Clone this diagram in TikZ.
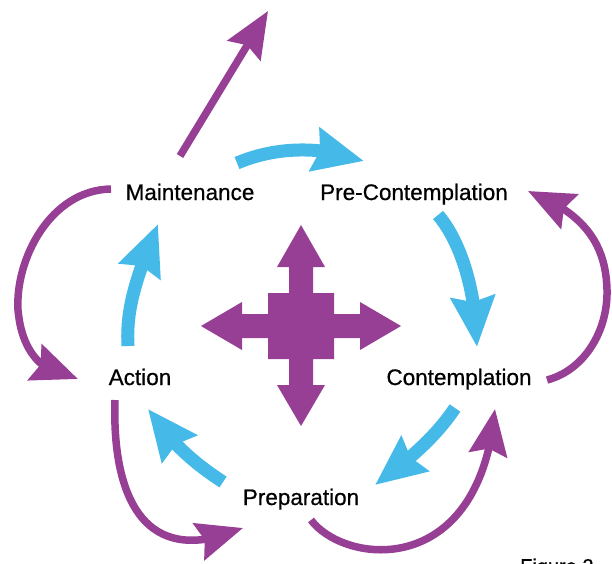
\documentclass[tikz,border=0pt]{standalone}
\usepackage{fontspec}
\setmainfont{Liberation Sans}
\newfontfamily\lblfont{Liberation Sans}[FakeBold=0.6]
\usetikzlibrary{arrows.meta,bending}
\definecolor{cblue}{RGB}{69,186,233}
\definecolor{cpurple}{RGB}{150,63,148}
\begin{document}
\begin{tikzpicture}[x=1pt,y=-1pt,
  lbl/.style={font=\lblfont\fontsize{22.5}{26}\selectfont, text=black, inner sep=0pt, anchor=base},
  bluearrow/.style={draw=cblue, line width=13pt, line cap=butt, -{Stealth[length=50pt,width=43pt,inset=5pt,flex]}},
  purplearrow/.style={draw=cpurple, line width=7.5pt, line cap=butt, -{Stealth[length=46pt,width=38pt,inset=6pt,flex]}},
  cross/.style={fill=cpurple, draw=none}
]
\useasboundingbox (0,0) rectangle (612,563);
\clip (0,0) rectangle (612,563);

% labels
\node[lbl] (maint) at (190,200) {Maintenance};
\node[lbl] (precon) at (414,200) {Pre-Contemplation};
\node[lbl] (contem) at (459,385) {Contemplation};
\node[lbl] (action) at (140,385) {Action};
\node[lbl] (prep) at (301,505) {Preparation};
\node[font=\lblfont\fontsize{20}{24}\selectfont, inner sep=0pt, anchor=base west] (fig) at (520,573) {Figure 2};

% connector end points
\coordinate (b1s) at (237,163); \coordinate (b1e) at (364,161);
\coordinate (b2s) at (438,215); \coordinate (b2e) at (477,347);
\coordinate (b3s) at (455,408); \coordinate (b3e) at (375,485);
\coordinate (b4s) at (223,482); \coordinate (b4e) at (148,409);
\coordinate (b5s) at (128,346); \coordinate (b5e) at (158,224);
\coordinate (p0s) at (180,156); \coordinate (p0e) at (268,11);
\coordinate (p1s) at (111,189); \coordinate (p1m) at (18,310); \coordinate (p1e) at (78,379);
\coordinate (p2s) at (115,400); \coordinate (p2e) at (243,528);
\coordinate (p3s) at (311,520); \coordinate (p3e) at (495,409);
\coordinate (p4s) at (547,380); \coordinate (p4m) at (607,290); \coordinate (p4e) at (528,191);

% blue cycle arrows
\draw[bluearrow] (b1s) .. controls (275,147) and (320,145) .. (b1e);
\draw[bluearrow] (b2s) .. controls (458,238) and (476,285) .. (b2e);
\draw[bluearrow] (b3s) .. controls (440,430) and (420,452) .. (b3e);
\draw[bluearrow] (b4s) .. controls (205,470) and (175,450) .. (b4e);
\draw[bluearrow] (b5s) .. controls (126,310) and (135,280) .. (b5e);

% purple arrows
\draw[purplearrow] (p0s) -- (p0e);
\draw[purplearrow] (p1s) .. controls (50,190) and (15,260) .. (p1m) .. controls (22,355) and (45,375) .. (p1e);
\draw[purplearrow] (p2s) .. controls (112,490) and (140,572) .. (p2e);
\draw[purplearrow] (p3s) .. controls (345,565) and (480,580) .. (p3e);
\draw[purplearrow] (p4s) .. controls (585,370) and (608,330) .. (p4m) .. controls (606,250) and (590,215) .. (p4e);

% central four-way arrow
\fill[cross] (301,225) -- (325,267) -- (313,267) -- (313,293) -- (334,293) -- (334,314) -- (360,314) -- (360,302) -- (401,326) -- (360,350) -- (360,338) -- (334,338) -- (334,359) -- (313,359) -- (313,385) -- (325,385) -- (301,426) -- (277,385) -- (289,385) -- (289,359) -- (268,359) -- (268,338) -- (242,338) -- (242,350) -- (201,326) -- (242,302) -- (242,314) -- (268,314) -- (268,293) -- (289,293) -- (289,267) -- (277,267) -- cycle;
\end{tikzpicture}
\end{document}
